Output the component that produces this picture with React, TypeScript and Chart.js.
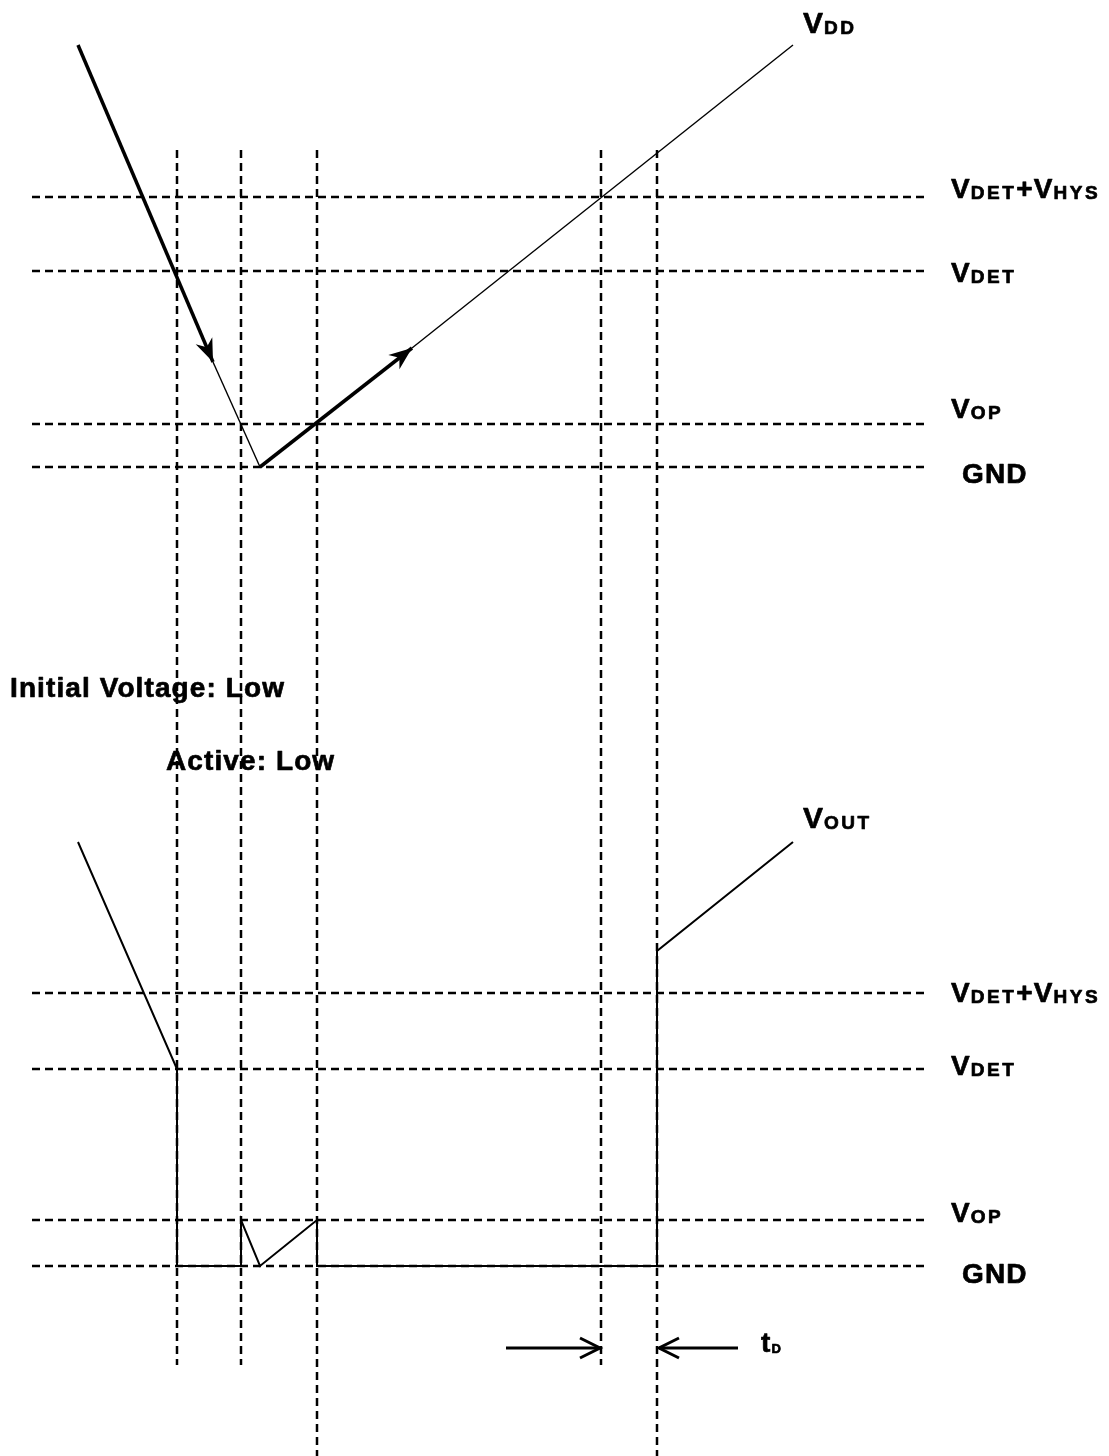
import { useEffect, useRef } from 'react';
import { Chart, registerables } from 'chart.js';

Chart.register(...registerables);

// Diagram coordinate space (x: time axis, y: voltage axis, drawn top-down)
const W = 1109;
const H = 1456;

// Vertical time markers
const timeMarkers = [177, 241, 317, 601, 657];
const markerTop = 150;
const markerBottom = [1365, 1365, 1456, 1365, 1456];

// Horizontal reference levels (VDET+VHYS, VDET, VOP, GND)
const levelSpan = [32, 925];
const vddLevels = [197, 271, 424, 467];
const voutLevels = [993, 1069, 1220, 1266];

// VDD waveform (thick/thin sections)
const vddFallThick = [{ x: 78, y: 45 }, { x: 213, y: 362 }];
const vddFallThin = [{ x: 213, y: 362 }, { x: 260, y: 467 }];
const vddRiseThick = [{ x: 260, y: 467 }, { x: 412, y: 348 }];
const vddRiseThin = [{ x: 412, y: 348 }, { x: 793, y: 45 }];

// VOUT waveform
const voutPath = [
  { x: 78, y: 842 }, { x: 177, y: 1069 }, { x: 177, y: 1266 }, { x: 241, y: 1266 },
  { x: 241, y: 1220 }, { x: 260, y: 1266 }, { x: 317, y: 1220 }, { x: 317, y: 1266 },
  { x: 657, y: 1266 }, { x: 657, y: 951 }, { x: 793, y: 842 },
];

// tD dimension arrows
const tdLeft = [{ x: 506, y: 1348 }, { x: 600, y: 1348 }];
const tdRight = [{ x: 738, y: 1348 }, { x: 659, y: 1348 }];

// Filled arrowheads on VDD: [from, tip]
const vddArrows = [
  [{ x: 78, y: 45 }, { x: 213, y: 362 }],
  [{ x: 260, y: 467 }, { x: 412, y: 348 }],
];

// Labels: parts of [text, kind]; position = left, baseline
type Part = [string, 'big' | 'main' | 'sub' | 'tiny'];
const labels: { x: number; y: number; parts: Part[] }[] = [
  { x: 803, y: 33, parts: [['V', 'big'], ['DD', 'sub']] },
  { x: 951, y: 198, parts: [['V', 'main'], ['DET', 'sub'], ['+', 'main'], ['V', 'main'], ['HYS', 'sub']] },
  { x: 951, y: 282, parts: [['V', 'main'], ['DET', 'sub']] },
  { x: 951, y: 418, parts: [['V', 'main'], ['OP', 'sub']] },
  { x: 962, y: 483, parts: [['GND', 'main']] },
  { x: 10, y: 697, parts: [['Initial Voltage: Low', 'main']] },
  { x: 166, y: 770, parts: [['Active: Low', 'main']] },
  { x: 803, y: 828, parts: [['V', 'big'], ['OUT', 'sub']] },
  { x: 951, y: 1002, parts: [['V', 'main'], ['DET', 'sub'], ['+', 'main'], ['V', 'main'], ['HYS', 'sub']] },
  { x: 951, y: 1075, parts: [['V', 'main'], ['DET', 'sub']] },
  { x: 951, y: 1222, parts: [['V', 'main'], ['OP', 'sub']] },
  { x: 962, y: 1283, parts: [['GND', 'main']] },
  { x: 761, y: 1352, parts: [['t', 'main'], ['D', 'tiny']] },
];

const FONT = '"Liberation Sans", Arial, sans-serif';
const fontFor: Record<string, [string, number, number]> = {
  big: [`bold 30px ${FONT}`, 0, 1],
  main: [`bold 28px ${FONT}`, 0, 1.1],
  sub: [`bold 19px ${FONT}`, 1, 2.5],
  tiny: [`bold 13px ${FONT}`, 1, 0.5],
};

const line = (data: { x: number; y: number }[], width: number, dash: number[] = []) => ({
  data,
  showLine: true,
  borderColor: '#000',
  backgroundColor: '#000',
  borderWidth: width,
  borderDash: dash,
  pointRadius: 0,
  borderCapStyle: 'butt' as const,
  tension: 0,
});

const overlay = {
  id: 'overlay',
  afterDatasetsDraw(chart: any) {
    const ctx: CanvasRenderingContext2D = chart.ctx;
    const sx = chart.scales.x;
    const sy = chart.scales.y;
    const px = (v: number) => sx.getPixelForValue(v);
    const py = (v: number) => sy.getPixelForValue(v);
    ctx.save();
    ctx.fillStyle = '#000';
    ctx.strokeStyle = '#000';
    // filled notched arrowheads
    for (const [a, b] of vddArrows) {
      const x0 = px(a.x), y0 = py(a.y), x1 = px(b.x), y1 = py(b.y);
      const ang = Math.atan2(y1 - y0, x1 - x0);
      const L = 23, hw = 9, notch = 16;
      const c = Math.cos(ang), s = Math.sin(ang);
      ctx.beginPath();
      ctx.moveTo(x1, y1);
      ctx.lineTo(x1 - L * c + hw * s, y1 - L * s - hw * c);
      ctx.lineTo(x1 - notch * c, y1 - notch * s);
      ctx.lineTo(x1 - L * c - hw * s, y1 - L * s + hw * c);
      ctx.closePath();
      ctx.fill();
    }
    // open chevron heads for tD
    for (const seg of [tdLeft, tdRight]) {
      const a = seg[0], b = seg[1];
      const x0 = px(a.x), y0 = py(a.y), x1 = px(b.x), y1 = py(b.y);
      const ang = Math.atan2(y1 - y0, x1 - x0);
      const c = Math.cos(ang), s = Math.sin(ang);
      const L = 20, hw = 10;
      ctx.lineWidth = 3;
      ctx.lineJoin = 'miter';
      ctx.beginPath();
      ctx.moveTo(x1 - L * c + hw * s, y1 - L * s - hw * c);
      ctx.lineTo(x1, y1);
      ctx.lineTo(x1 - L * c - hw * s, y1 - L * s + hw * c);
      ctx.stroke();
    }
    // labels
    ctx.textBaseline = 'alphabetic';
    ctx.textAlign = 'left';
    ctx.lineWidth = 0.7;
    ctx.lineJoin = 'round';
    for (const lab of labels) {
      let x = px(lab.x);
      const y = py(lab.y);
      for (const [text, kind] of lab.parts) {
        const [font, dy, ls] = fontFor[kind];
        ctx.font = font;
        (ctx as any).letterSpacing = `${ls}px`;
        ctx.fillText(text, x, y + dy);
        ctx.strokeText(text, x, y + dy);
        x += ctx.measureText(text).width;
      }
    }
    (ctx as any).letterSpacing = '0px';
    ctx.restore();
  },
};

export default function App() {
  const ref = useRef<HTMLCanvasElement>(null);
  useEffect(() => {
    if (!ref.current) return;
    const dash = [8, 5];
    const datasets: any[] = [];
    for (const lv of [...vddLevels, ...voutLevels]) {
      datasets.push(line([{ x: levelSpan[0], y: lv }, { x: levelSpan[1], y: lv }], 2.5, dash));
    }
    timeMarkers.forEach((t, i) => {
      datasets.push(line([{ x: t, y: markerTop }, { x: t, y: markerBottom[i] }], 2.5, dash));
    });
    datasets.push(line(vddFallThick, 3.5));
    datasets.push(line(vddFallThin, 1.4));
    datasets.push(line(vddRiseThick, 3.5));
    datasets.push(line(vddRiseThin, 1.4));
    datasets.push(line(voutPath, 2));
    datasets.push(line(tdLeft, 3));
    datasets.push(line(tdRight, 3));

    const chart = new Chart(ref.current, {
      type: 'scatter',
      data: { datasets },
      options: {
        animation: false,
        responsive: false,
        devicePixelRatio: 1,
        layout: { padding: 0 },
        plugins: { legend: { display: false }, tooltip: { enabled: false } },
        scales: {
          x: { type: 'linear', min: 0, max: W, display: false },
          y: { type: 'linear', min: 0, max: H, reverse: true, display: false },
        },
      },
      plugins: [overlay],
    });
    return () => chart.destroy();
  }, []);
  return (
    <div style={{ position: 'absolute', left: 0, top: 0, width: W, height: H, background: '#fff' }}>
      <canvas ref={ref} width={W} height={H} />
    </div>
  );
}
